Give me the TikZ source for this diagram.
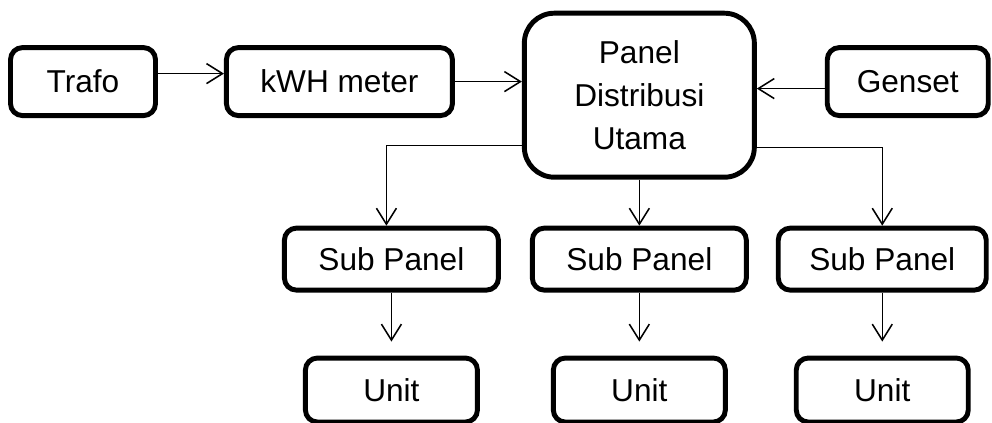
\documentclass[tikz,border=0pt]{standalone}
\usepackage{fontspec}
\setmainfont{Liberation Sans}
\usetikzlibrary{positioning,arrows.meta}

\begin{document}
\begin{tikzpicture}[
  font=\fontsize{22.5}{30.5}\selectfont,
  >={Straight Barb[length=4mm,width=5mm]},
  box/.style={rectangle, rounded corners=0.3cm, draw=black, line width=3.5pt,
    minimum height=1.7cm, align=center, inner sep=2pt},
  mainbox/.style={box, rounded corners=0.75cm, minimum width=5.75cm,
    minimum height=4.1cm},
  subbox/.style={box, minimum width=5.35cm, minimum height=1.55cm},
  unitbox/.style={box, minimum width=4.3cm, minimum height=1.6cm},
  ar/.style={->, line width=1.1pt, draw=black}
]
\useasboundingbox (0,0) rectangle (24.8,-10.575);
% Supply side
\node[box, minimum width=3.625cm] (trafo) at (2.075,-2.04) {Trafo};
\node[box, minimum width=5.65cm, right=1.65cm of trafo] (kwh) {kWH meter};
\node[mainbox, right=1.675cm of kwh, yshift=-0.34cm] (pdu)
  {Panel\\Distribusi\\Utama};
\node[box, minimum width=4.025cm, right=1.7cm of pdu, yshift=0.34cm] (genset)
  {Genset};
% Feeds into the main panel
\draw[ar] ([yshift=0.2cm]trafo.east) -- ([yshift=0.2cm]trafo.east -| kwh.west);
\draw[ar] (kwh.east) -- (kwh.east -| pdu.west);
\draw[ar] ([yshift=-0.175cm]genset.west) -- ([yshift=-0.175cm]genset.west -| pdu.east);
% Sub panels
\node[subbox, below=1.15cm of pdu] (sub2) {Sub Panel};
\node[subbox, left=0.725cm of sub2] (sub1) {Sub Panel};
\node[subbox, minimum width=5.2cm, right=0.675cm of sub2] (sub3) {Sub Panel};
\draw[ar] ([yshift=-1.26cm]pdu.west) -| ([xshift=-0.125cm]sub1.north);
\draw[ar] (pdu.south) -- (pdu.south |- sub2.north);
\draw[ar] ([yshift=-1.31cm]pdu.east) -| (sub3.north);
% Units
\node[unitbox, below=1.575cm of sub1] (unit1) {Unit};
\node[unitbox, below=1.575cm of sub2] (unit2) {Unit};
\node[unitbox, below=1.575cm of sub3] (unit3) {Unit};
\foreach \i in {1,2,3}
  \draw[ar, shorten >=0.35cm] (sub\i.south) -- (unit\i.north);
\end{tikzpicture}
\end{document}
